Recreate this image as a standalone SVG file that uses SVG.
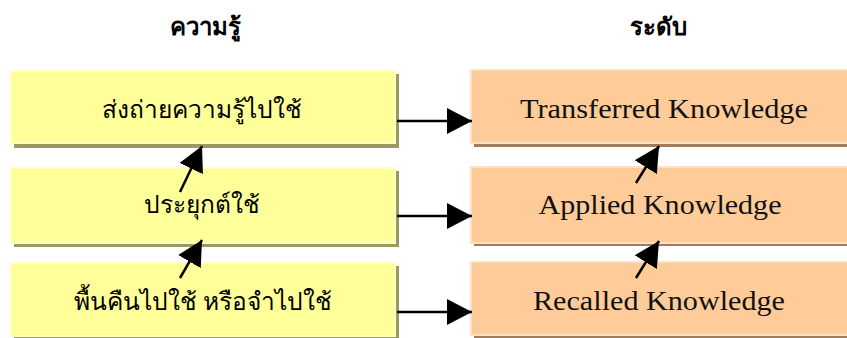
<svg xmlns="http://www.w3.org/2000/svg" width="847" height="338" viewBox="0 0 847 338">
<style>
.bg{fill:#ffffff}
.ysh{fill:#9b9a5c}
.ybox{fill:#ffff99;stroke:#ffffc4;stroke-width:2}
.osh{fill:#a27d5c}
.obox{fill:#ffcc99;stroke:#ffe0c2;stroke-width:2}
.head{font-family:"Noto Sans","DejaVu Sans",sans-serif;font-size:24px;font-weight:bold;fill:#000;text-anchor:middle}
.th{font-family:"Noto Sans","DejaVu Sans",sans-serif;font-size:24.5px;fill:#000;text-anchor:middle}
.en{font-family:"Liberation Serif","DejaVu Serif",serif;font-size:27px;fill:#111;text-anchor:middle}
.conn{stroke:#000;stroke-width:2.5;fill:none}
</style>
<defs>
<marker id="ah" markerUnits="userSpaceOnUse" markerWidth="26" markerHeight="28" refX="25" refY="13" orient="auto" viewBox="0 0 26 26">
<path d="M0,0 L25,13 L0,26 Z" fill="#000"/>
</marker>
</defs>
<rect class="bg" x="0" y="0" width="847" height="338"/>
<text class="head" x="205" y="35">ความรู้</text>
<text class="head" x="658" y="35">ระดับ</text>
<g id="k1">
<rect class="ysh" x="14" y="74" width="385" height="74"/>
<rect class="ybox" x="11" y="71" width="384" height="72"/>
<text class="th" x="202" y="118">ส่งถ่ายความรู้ไปใช้</text>
</g>
<g id="k2">
<rect class="ysh" x="14" y="171" width="385" height="76"/>
<rect class="ybox" x="11" y="168" width="384" height="75"/>
<text class="th" x="202" y="213">ประยุกต์ใช้</text>
</g>
<g id="k3">
<rect class="ysh" x="14" y="266" width="385" height="76"/>
<rect class="ybox" x="11" y="263" width="384" height="73"/>
<text class="th" x="203" y="310">พื้นคืนไปใช้ หรือจำไปใช้</text>
</g>
<g id="l1">
<rect class="osh" x="474" y="73" width="380" height="74"/>
<rect class="obox" x="471" y="70" width="380" height="73"/>
<text class="en" x="664" y="118" textLength="288" lengthAdjust="spacingAndGlyphs">Transferred Knowledge</text>
</g>
<g id="l2">
<rect class="osh" x="474" y="170" width="380" height="76"/>
<rect class="obox" x="471" y="167" width="380" height="76"/>
<text class="en" x="660" y="214" textLength="243" lengthAdjust="spacingAndGlyphs">Applied Knowledge</text>
</g>
<g id="l3">
<rect class="osh" x="474" y="265" width="380" height="76"/>
<rect class="obox" x="471" y="262" width="380" height="73"/>
<text class="en" x="659" y="310" textLength="252" lengthAdjust="spacingAndGlyphs">Recalled Knowledge</text>
</g>
<g id="connectors">
<line class="conn" x1="397" y1="121" x2="472" y2="121" marker-end="url(#ah)"/>
<line class="conn" x1="397" y1="216" x2="472" y2="216" marker-end="url(#ah)"/>
<line class="conn" x1="397" y1="312" x2="472" y2="312" marker-end="url(#ah)"/>
<line class="conn" x1="180" y1="192" x2="202" y2="146" marker-end="url(#ah)"/>
<line class="conn" x1="180" y1="278" x2="202" y2="240" marker-end="url(#ah)"/>
<line class="conn" x1="636" y1="183" x2="659" y2="146" marker-end="url(#ah)"/>
<line class="conn" x1="636" y1="278" x2="659" y2="241" marker-end="url(#ah)"/>
</g>
</svg>
